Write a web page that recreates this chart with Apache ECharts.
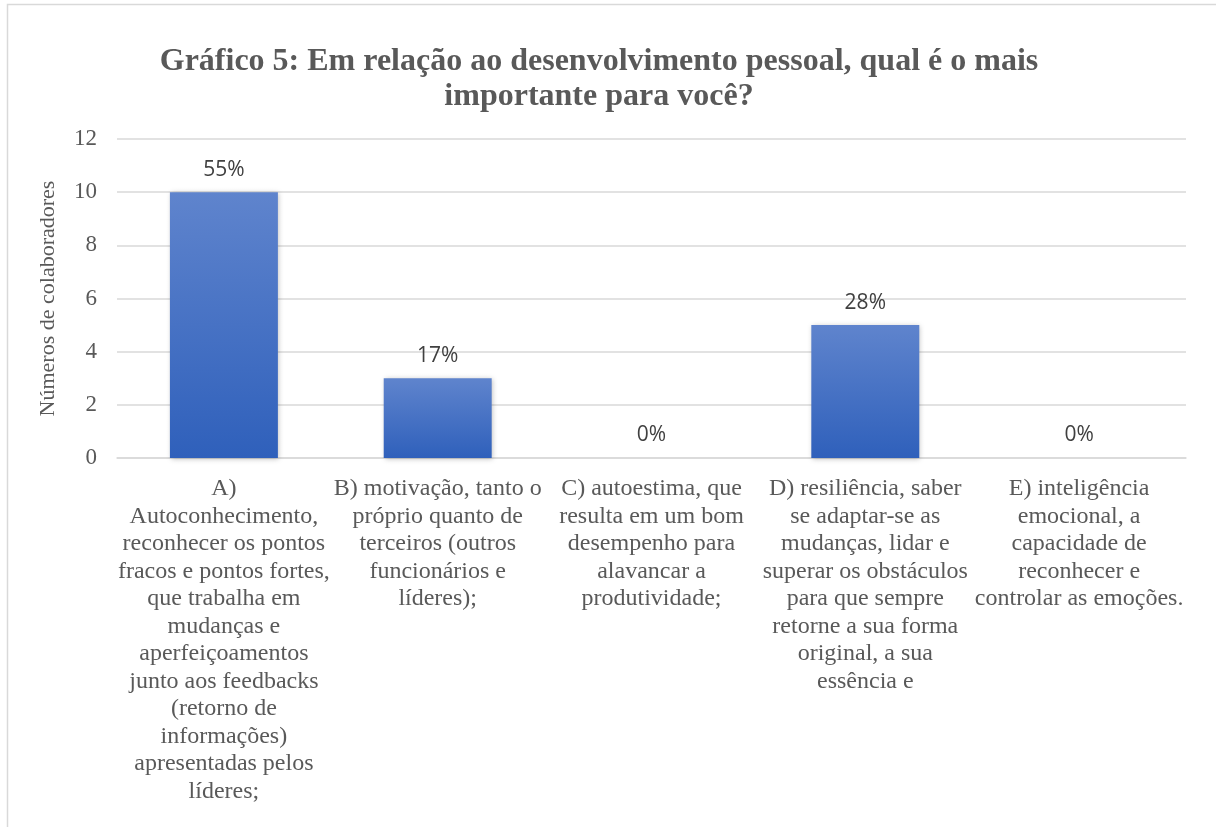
<!DOCTYPE html>
<html>
<head>
<meta charset="utf-8">
<script src="https://cdn.jsdelivr.net/npm/echarts@6/dist/echarts.min.js"></script>
<style>
  html, body { margin: 0; padding: 0; background: #fff; }
  #chart { width: 1216px; height: 827px; }
</style>
</head>
<body>
<div id="chart"></div>
<script>
var categories = [
    'A) Autoconhecimento, reconhecer os pontos fracos e pontos fortes, que trabalha em mudanças e aperfeiçoamentos junto aos feedbacks (retorno de informações) apresentadas pelos líderes;',
    'B) motivação, tanto o próprio quanto de terceiros (outros funcionários e líderes);',
    'C) autoestima, que resulta em um bom desempenho para alavancar a produtividade;',
    'D) resiliência, saber se adaptar-se as mudanças, lidar e superar os obstáculos para que sempre retorne a sua forma original, a sua essência e',
    'E) inteligência emocional, a capacidade de reconhecer e controlar as emoções.'
];
var colaboradores = [10, 3, 0, 5, 0];
var percentLabels = ['55%', '17%', '0%', '28%', '0%'];

var labelFont = '24px "Liberation Serif"';
var measureCtx = document.createElement('canvas').getContext('2d');

// word wrap like Excel: break only on spaces
function wrapWords(text, maxWidth) {
    measureCtx.font = labelFont;
    var words = text.split(' ');
    var lines = [];
    var cur = '';
    words.forEach(function (w) {
        var test = cur ? cur + ' ' + w : w;
        if (cur && measureCtx.measureText(test).width > maxWidth) {
            lines.push(cur);
            cur = w;
        } else {
            cur = test;
        }
    });
    if (cur) lines.push(cur);
    return lines.join('\n');
}

var chart = echarts.init(document.getElementById('chart'));
var option = {
    backgroundColor: '#fff',
    title: {
        text: 'Gráfico 5: Em relação ao desenvolvimento pessoal, qual é o mais\nimportante para você?',
        left: 594,
        top: 39,
        textAlign: 'center',
        textStyle: {
            fontFamily: 'Liberation Serif',
            fontWeight: 'bold',
            fontSize: 32,
            lineHeight: 35,
            color: '#595959'
        }
    },
    graphic: [{
        type: 'rect',
        shape: { x: 7.5, y: 4.5, width: 1400, height: 1000 },
        style: { fill: 'none', stroke: '#d9d9d9', lineWidth: 1.5 },
        silent: true
    }],
    grid: { left: 117, right: 30, top: 139, bottom: 369 },
    xAxis: {
        type: 'category',
        data: categories,
        axisLine: { lineStyle: { color: '#d9d9d9', width: 1.5 } },
        axisTick: { show: false },
        axisLabel: {
            interval: 0,
            margin: 17,
            fontFamily: 'Liberation Serif',
            fontSize: 24,
            lineHeight: 27.5,
            color: '#595959',
            formatter: function (v) { return wrapWords(v, 213.5); }
        }
    },
    yAxis: {
        type: 'value',
        min: 0,
        max: 12,
        interval: 2,
        name: 'Números de colaboradores',
        nameLocation: 'middle',
        nameGap: 58,
        nameTextStyle: {
            fontFamily: 'Liberation Serif',
            fontSize: 22,
            color: '#595959'
        },
        axisLine: { show: false },
        axisTick: { show: false },
        axisLabel: {
            margin: 20,
            fontFamily: 'Liberation Serif',
            fontSize: 23,
            color: '#595959'
        },
        splitLine: { lineStyle: { color: '#d9d9d9', width: 1.5 } }
    },
    series: [{
        type: 'bar',
        data: colaboradores,
        barWidth: '50.5%',
        itemStyle: {
            color: new echarts.graphic.LinearGradient(0, 0, 0, 1, [
                { offset: 0, color: '#5f84cd' },
                { offset: 1, color: '#2f60bb' }
            ]),
            shadowColor: 'rgba(0,0,0,0.25)',
            shadowBlur: 5,
            shadowOffsetX: 1,
            shadowOffsetY: 1
        },
        label: {
            show: true,
            position: 'top',
            distance: 12,
            fontFamily: 'Open Sans',
            fontSize: 21,
            color: '#404040',
            formatter: function (p) { return percentLabels[p.dataIndex]; }
        }
    }]
};
chart.setOption(option);
</script>
</body>
</html>
